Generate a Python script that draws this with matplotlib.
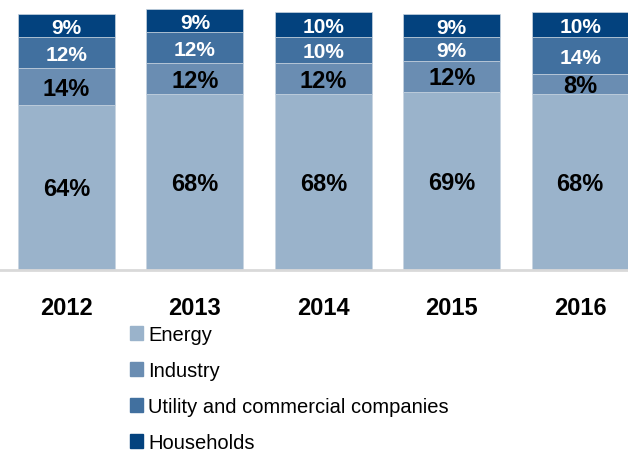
import matplotlib
matplotlib.use("Agg")
import matplotlib.pyplot as plt
import numpy as np
from matplotlib.patches import Patch

years = ['2012', '2013', '2014', '2015', '2016']
energy = [64, 68, 68, 69, 68]
industry = [14, 12, 12, 12, 8]
utility = [12, 12, 10, 9, 14]
households = [9, 9, 10, 9, 10]

series = [('Energy', energy, '#9ab3cb', 'black'),
          ('Industry', industry, '#6a8db2', 'black'),
          ('Utility and commercial companies', utility, '#41709f', 'white'),
          ('Households', households, '#03427e', 'white')]

plt.rcParams['font.family'] = ['Liberation Sans', 'DejaVu Sans']

fig = plt.figure(figsize=(6.28, 4.52), dpi=100)
ax = fig.add_axes([0, 0.4004, 1, 0.5774])

x = np.arange(len(years))
width = 0.755
bottom = np.zeros(len(years))
for name, vals, color, tcolor in series:
    ax.bar(x, vals, width, bottom=bottom, color=color, edgecolor='#c8d4e0', linewidth=0.5, label=name)
    for xi, b, v in zip(x, bottom, vals):
        big = tcolor == 'black'
        ax.text(xi, b + v / 2 - 0.6, f'{v}%', ha='center', va='center', color=tcolor,
                fontsize=17 if big else 15, fontweight='bold')
    bottom += np.array(vals)

ax.set_xlim(-0.518, 4.373)
ax.set_ylim(0, 101)
ax.set_yticks([])
ax.set_xticks(x)
ax.set_xticklabels(years, fontsize=17, fontweight='bold')
ax.tick_params(axis='x', length=0, pad=19)
for s in ['top', 'left', 'right']:
    ax.spines[s].set_visible(False)
ax.spines['bottom'].set_color('#d9d9d9')
ax.spines['bottom'].set_linewidth(2)

handles = [Patch(color=c) for _, _, c, _ in series]
labels = [n for n, _, _, _ in series]
fig.legend(handles, labels, loc='upper left', bbox_to_anchor=(0.207, 0.279),
           frameon=False, fontsize=14.5, handlelength=0.67, handleheight=0.67,
           handletextpad=0.24, labelspacing=0.85, borderpad=0, borderaxespad=0)

fig.savefig('out.png', dpi=100)
